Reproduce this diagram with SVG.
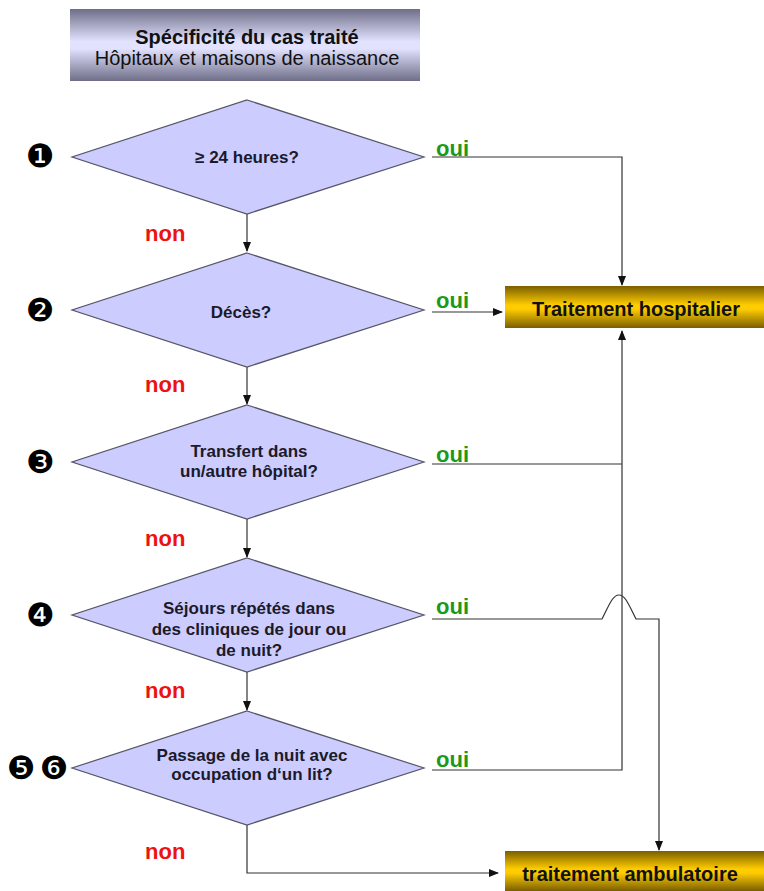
<svg xmlns="http://www.w3.org/2000/svg" width="764" height="891" viewBox="0 0 764 891">
<defs>
<linearGradient id="gTitle" x1="0" y1="0" x2="0" y2="1">
<stop offset="0" stop-color="#6e6e88"/>
<stop offset="0.45" stop-color="#e2e2ff"/>
<stop offset="0.55" stop-color="#e2e2ff"/>
<stop offset="1" stop-color="#6e6e88"/>
</linearGradient>
<linearGradient id="gGold" x1="0" y1="0" x2="0" y2="1">
<stop offset="0" stop-color="#7a5e00"/>
<stop offset="0.45" stop-color="#ffcc00"/>
<stop offset="0.55" stop-color="#ffcc00"/>
<stop offset="1" stop-color="#7a5e00"/>
</linearGradient>
<marker id="arr" markerWidth="10" markerHeight="8" refX="9" refY="4" orient="auto" markerUnits="userSpaceOnUse">
<path d="M0,0 L10,4 L0,8 Z" fill="#111"/>
</marker>
<style>
.dia{fill:#ccccff;stroke:#555566;stroke-width:1.2}
.ln{fill:none;stroke:#333;stroke-width:1.2}
.t{font-family:"Liberation Sans",Arial,sans-serif;font-size:17px;font-weight:bold;fill:#1a1a2a;text-anchor:middle}
.oui{font-family:"Liberation Sans",Arial,sans-serif;font-size:22px;font-weight:bold;fill:#1a9a1a}
.non{font-family:"Liberation Sans",Arial,sans-serif;font-size:22px;font-weight:bold;fill:#ee1111}
.num{font-family:"DejaVu Sans",sans-serif;font-size:32px;fill:#000;text-anchor:middle}
.box{font-family:"Liberation Sans",Arial,sans-serif;font-size:20px;font-weight:bold;fill:#111;text-anchor:middle}
.sub{font-family:"Liberation Sans",Arial,sans-serif;font-size:20px;fill:#111;text-anchor:middle}
</style>
</defs>
<rect width="764" height="891" fill="#fff"/>

<g id="title">
<rect x="70" y="9" width="350" height="72" fill="url(#gTitle)"/>
<text class="box" x="247" y="44">Spécificité du cas traité</text>
<text class="sub" x="247" y="65">Hôpitaux et maisons de naissance</text>
</g>

<g id="connectors">
<path class="ln" d="M247,214 V251" marker-end="url(#arr)"/>
<path class="ln" d="M247,367 V404" marker-end="url(#arr)"/>
<path class="ln" d="M247,519 V557" marker-end="url(#arr)"/>
<path class="ln" d="M247,672 V710" marker-end="url(#arr)"/>
<path class="ln" d="M247,825 V873 H498" marker-end="url(#arr)"/>
<path class="ln" d="M432,157 H622 V285" marker-end="url(#arr)"/>
<path class="ln" d="M432,312 H502" marker-end="url(#arr)"/>
<path class="ln" d="M432,464 H622"/>
<path class="ln" d="M432,770 H622 V331" marker-end="url(#arr)"/>
<path class="ln" d="M432,619 H602 C610,603 613,595 619,595 C625,595 628,603 636,619 H659 V850" marker-end="url(#arr)"/>
</g>

<g id="d1">
<polygon class="dia" points="247,100 424,157 247,214 72,157"/>
<text class="t" x="247" y="163">≥ 24 heures?</text>
</g>
<g id="d2">
<polygon class="dia" points="247,253 424,310 247,367 72,310"/>
<text class="t" x="241" y="318">Décès?</text>
</g>
<g id="d3">
<polygon class="dia" points="247,405 424,462 247,519 72,462"/>
<text class="t" x="249" y="457">Transfert dans</text>
<text class="t" x="249" y="477">un/autre hôpital?</text>
</g>
<g id="d4">
<polygon class="dia" points="247,558 424,615 247,672 72,615"/>
<text class="t" x="249" y="614">Séjours répétés dans</text>
<text class="t" x="249" y="635">des cliniques de jour ou</text>
<text class="t" x="249" y="656">de nuit?</text>
</g>
<g id="d5">
<polygon class="dia" points="247,711 424,768 247,825 72,768"/>
<text class="t" x="252" y="761">Passage de la nuit avec</text>
<text class="t" x="252" y="780">occupation d‘un lit?</text>
</g>

<g id="hosp">
<rect x="505" y="286" width="259" height="42" fill="url(#gGold)"/>
<text class="box" x="636" y="316">Traitement hospitalier</text>
</g>
<g id="ambu">
<rect x="505" y="851" width="259" height="40" fill="url(#gGold)"/>
<text class="box" x="630" y="881">traitement ambulatoire</text>
</g>

<g id="labels">
<text class="oui" x="436" y="156">oui</text>
<text class="oui" x="436" y="308">oui</text>
<text class="oui" x="436" y="462">oui</text>
<text class="oui" x="436" y="614">oui</text>
<text class="oui" x="436" y="767">oui</text>
<text class="non" x="145" y="241">non</text>
<text class="non" x="145" y="392">non</text>
<text class="non" x="145" y="546">non</text>
<text class="non" x="145" y="698">non</text>
<text class="non" x="145" y="859">non</text>
</g>

<g id="numbers">
<text class="num" x="40" y="167">❶</text>
<text class="num" x="40" y="321">❷</text>
<text class="num" x="40" y="473">❸</text>
<text class="num" x="40" y="626">❹</text>
<text class="num" x="21" y="779">❺</text>
<text class="num" x="54" y="779">❻</text>
</g>
</svg>
